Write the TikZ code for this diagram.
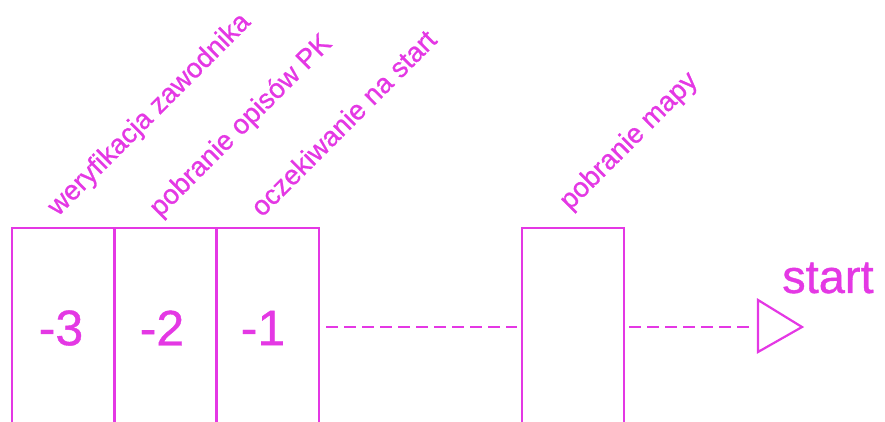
\documentclass[tikz,border=0pt]{standalone}
\usepackage{fontspec}
\setmainfont{Liberation Sans}
\newfontfamily\thickfont[FakeBold=0.8]{Liberation Sans}
\definecolor{mag}{RGB}{228,56,228}
\begin{document}
\begin{tikzpicture}[x=1pt,y=1pt,
  stage/.style={draw=mag, line width=2.4pt, minimum width=102pt, minimum height=200pt, inner sep=0pt},
  num/.style={text=mag, font=\thickfont\fontsize{50}{50}\selectfont, inner sep=0pt},
  lbl/.style={text=mag, font=\thickfont\fontsize{27.5}{27.5}\selectfont, rotate=45, anchor=base west, inner sep=0pt},
  link/.style={draw=mag, line width=2.2pt, dash pattern=on 12pt off 6pt}]
\useasboundingbox (0,0) rectangle (885,422);
\clip (0,0) rectangle (885,422);
% boxes (image y -> 422 - y)
\node[stage] (b1) at (63,94) {};
\node[stage] (b2) at (165.5,94) {};
\node[stage] (b3) at (268,94) {};
\node[stage] (b4) at (573,94) {};
\node[num] (n1) at (61,94) {-3};
\node[num] (n2) at (162,94) {-2};
\node[num] (n3) at (263,94) {-1};
% rotated labels
\node[lbl] (l1) at (58,205) {weryfikacja zawodnika};
\node[lbl] (l2) at (160,204) {pobranie opisów PK};
\node[lbl] (l3) at (262,204) {oczekiwanie na start};
\node[lbl] (l4) at (570,211) {pobranie mapy};
% triangle
\coordinate (ta) at (758,122);
\coordinate (tb) at (758,70);
\coordinate (tc) at (802,95);
\coordinate (tm) at (758,95);
\draw[mag, line width=2.2pt, line join=miter] (ta) -- (tc) -- (tb) -- cycle;
% dashed links
\draw[link] ([xshift=6pt]b3.east |- 0,95) -- ([xshift=-4pt]b4.west |- 0,95);
\draw[link] ([xshift=4pt]b4.east |- 0,95) -- ([xshift=-4pt]tm);
\node[text=mag, font=\thickfont\fontsize{47}{47}\selectfont, anchor=base west, inner sep=0pt] (st) at (782,129) {start};
\end{tikzpicture}
\end{document}
